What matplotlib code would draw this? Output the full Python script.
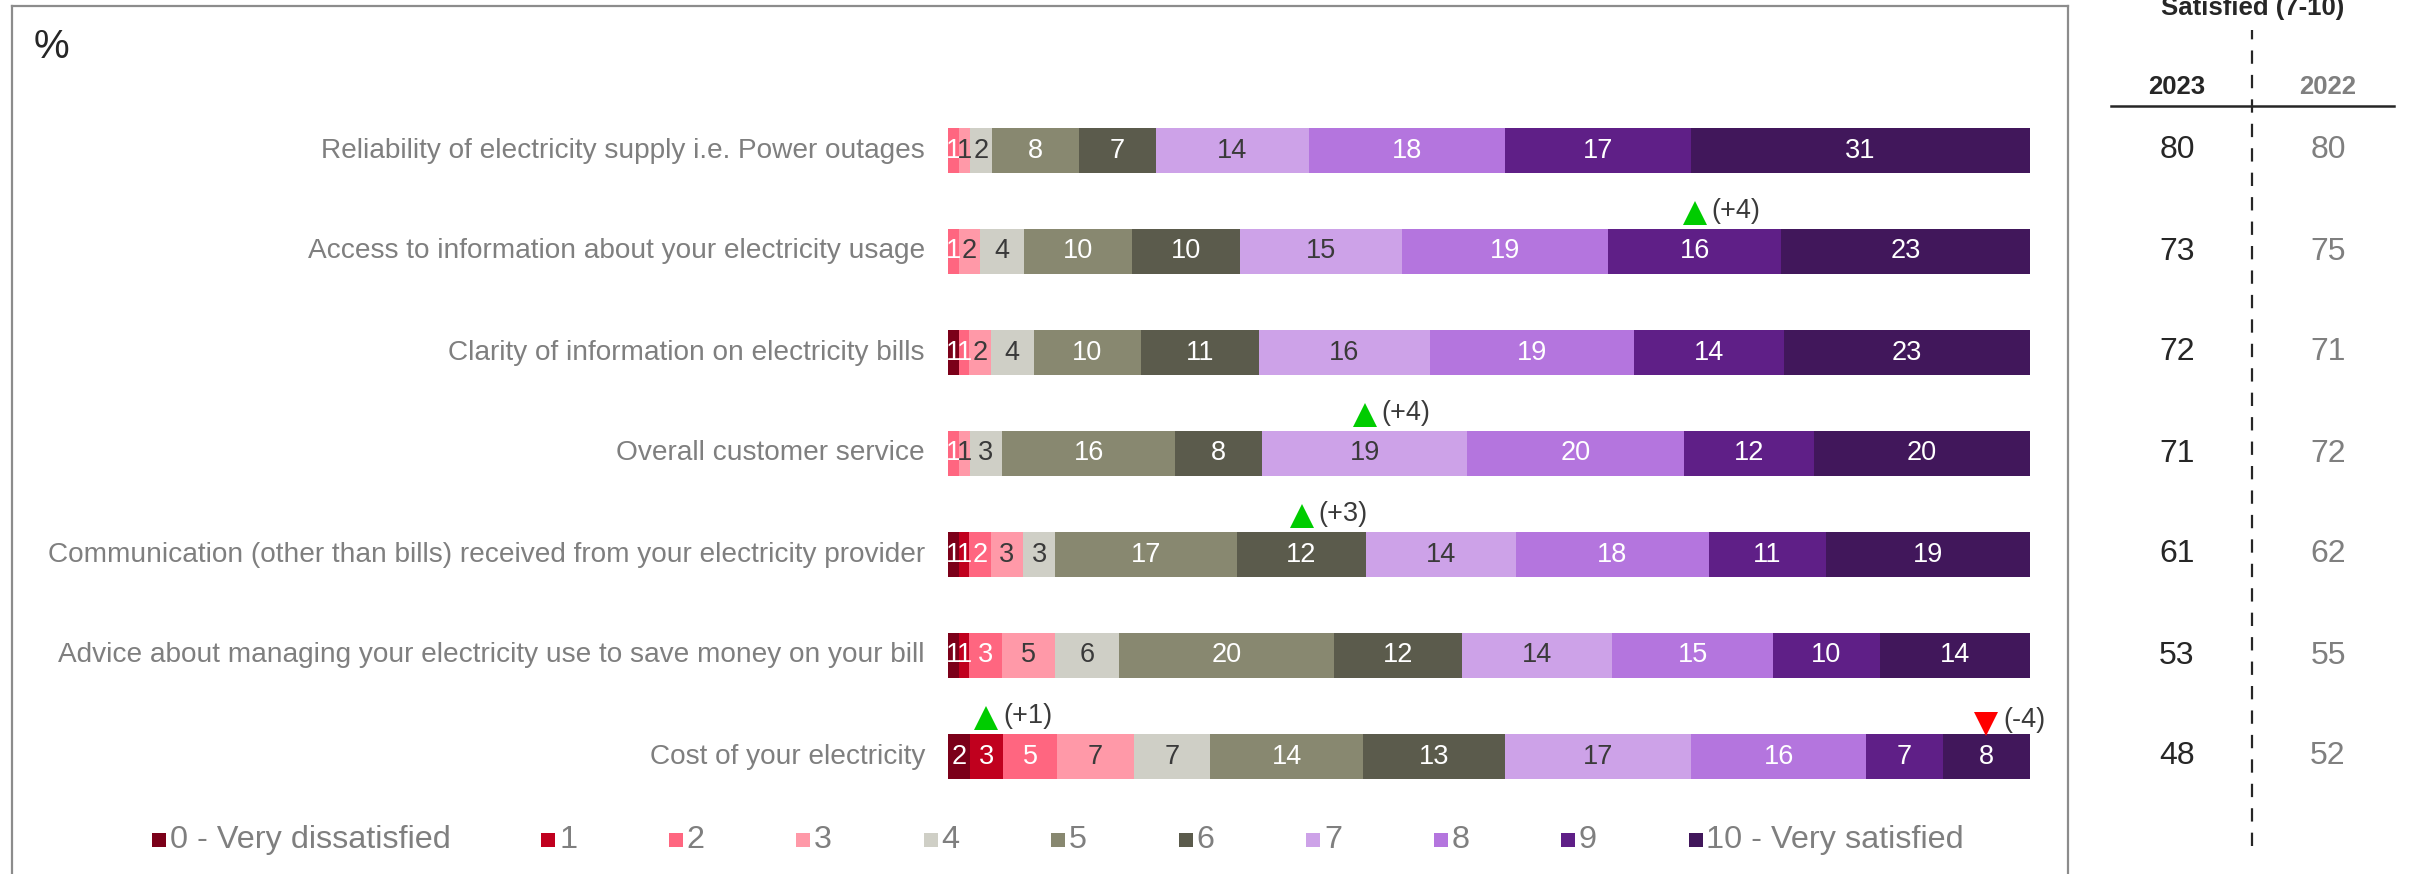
import matplotlib
matplotlib.use('Agg')
import matplotlib.pyplot as plt
import numpy as np
from matplotlib.transforms import blended_transform_factory
from matplotlib.lines import Line2D
from matplotlib.patches import Rectangle

plt.rcParams['font.family'] = ['Liberation Sans', 'DejaVu Sans']

# ---------------- data ----------------
categories = [
    "Reliability of electricity supply i.e. Power outages",
    "Access to information about your electricity usage",
    "Clarity of information on electricity bills",
    "Overall customer service",
    "Communication (other than bills) received from your electricity provider",
    "Advice about managing your electricity use to save money on your bill",
    "Cost of your electricity",
]
score_labels = ["0 - Very dissatisfied", "1", "2", "3", "4", "5", "6", "7", "8", "9",
                "10 - Very satisfied"]
score_0 = [0, 0, 1, 0, 1, 1, 2]
score_1 = [0, 0, 0, 0, 1, 1, 3]
score_2 = [1, 1, 1, 1, 2, 3, 5]
score_3 = [1, 2, 2, 1, 3, 5, 7]
score_4 = [2, 4, 4, 3, 3, 6, 7]
score_5 = [8, 10, 10, 16, 17, 20, 14]
score_6 = [7, 10, 11, 8, 12, 12, 13]
score_7 = [14, 15, 16, 19, 14, 14, 17]
score_8 = [18, 19, 19, 20, 18, 15, 16]
score_9 = [17, 16, 14, 12, 11, 10, 7]
score_10 = [31, 23, 23, 20, 19, 14, 8]
satisfied_2023 = [80, 73, 72, 71, 61, 53, 48]
satisfied_2022 = [80, 75, 71, 72, 62, 55, 52]
# significant changes: (row index, score index, label, direction)
change_rows = [1, 3, 4, 6, 6]
change_scores = [9, 7, 6, 1, 10]
change_labels = ["(+4)", "(+4)", "(+3)", "(+1)", "(-4)"]
change_dirs = ["up", "up", "up", "up", "down"]

colors = ['#7B0019', '#C0001E', '#FF6680', '#FF99A8', '#CFCFC6', '#888870',
          '#5B5B4C', '#CDA2E8', '#B475DE', '#5F1F87', '#41175B']
text_colors = ['white', 'white', 'white', '#3A3A3A', '#3A3A3A', 'white',
               'white', '#3A3A3A', 'white', 'white', 'white']

series = np.array([score_0, score_1, score_2, score_3, score_4, score_5,
                   score_6, score_7, score_8, score_9, score_10], dtype=float)

# ---------------- figure ----------------
W, H = 2433, 874
fig = plt.figure(figsize=(W / 100, H / 100), dpi=100)
fig.patch.set_facecolor('white')

ax = fig.add_axes([948 / W, (H - 807) / H, (2030 - 948) / W, 707 / H])
ax.set_xlim(0, 100)
ax.set_ylim(len(categories) - 0.5, -0.5)
ax.axis('off')

y = np.arange(len(categories))
totals = series.sum(axis=0)
shares = series / totals * 100
left = np.zeros(len(categories))
centers = np.zeros_like(shares)
for k in range(series.shape[0]):
    ax.barh(y, shares[k], left=left, height=0.45, color=colors[k],
            edgecolor='none', linewidth=0)
    centers[k] = left + shares[k] / 2
    for i in range(len(categories)):
        if series[k, i] > 0:
            ax.text(centers[k, i], y[i], f"{int(series[k, i])}", ha='center',
                    va='center', fontsize=19.5, color=text_colors[k])
    left = left + shares[k]

# category labels
tr_lab = blended_transform_factory(fig.transFigure, ax.transData)
for i, c in enumerate(categories):
    ax.text(925 / W, y[i], c, transform=tr_lab, ha='right', va='center',
            fontsize=20.2, color='#7F7F7F')

# change markers
for r, s, lab, d in zip(change_rows, change_scores, change_labels, change_dirs):
    cx = centers[s, r]
    if d == 'up':
        ax.plot(cx, r - 0.385, marker='^', markersize=17, color='#00CC00',
                markeredgewidth=0, clip_on=False)
        ax.annotate(lab, (cx, r - 0.40), xytext=(12, 0), textcoords='offset points',
                    ha='left', va='center', fontsize=19.5, color='#3A3A3A',
                    annotation_clip=False)
    else:
        ax.plot(cx, r - 0.32, marker='v', markersize=17, color='#FF0000',
                markeredgewidth=0, clip_on=False)
        ax.annotate(lab, (cx, r - 0.36), xytext=(12, 0), textcoords='offset points',
                    ha='left', va='center', fontsize=19.5, color='#3A3A3A',
                    annotation_clip=False)

# "%"
fig.text(34 / W, 1 - 47 / H, "%", ha='left', va='center', fontsize=29,
         color='#262626')

# frame around chart area
fc = '#8C8C8C'
fig.add_artist(Line2D([12 / W, 12 / W], [0, 1 - 6 / H], transform=fig.transFigure,
                      color=fc, lw=1.6))
fig.add_artist(Line2D([12 / W, 2068 / W], [1 - 6 / H, 1 - 6 / H],
                      transform=fig.transFigure, color=fc, lw=1.6))
fig.add_artist(Line2D([2068 / W, 2068 / W], [0, 1 - 6 / H], transform=fig.transFigure,
                      color=fc, lw=1.6))

# right table
fig.text(2253 / W, 1 - 15 / H, "Satisfied (7-10)", ha='center', va='baseline',
         fontsize=18.5, fontweight='bold', color='#262626')
fig.text(2177 / W, 1 - 87 / H, "2023", ha='center', va='center', fontsize=18.5,
         fontweight='bold', color='#262626')
fig.text(2328 / W, 1 - 87 / H, "2022", ha='center', va='center', fontsize=18.5,
         fontweight='bold', color='#7F7F7F')
fig.add_artist(Line2D([2111 / W, 2394 / W], [1 - 106 / H, 1 - 106 / H],
                      transform=fig.transFigure, color='#262626', lw=1.8))
fig.add_artist(Line2D([2252 / W, 2252 / W], [1 - 846 / H, 1 - 30 / H],
                      transform=fig.transFigure, color='#262626', lw=1.6,
                      dashes=(6, 5)))
for i in range(len(categories)):
    ax.text(2177 / W, y[i], f"{satisfied_2023[i]}", transform=tr_lab, ha='center',
            va='center', fontsize=23, color='#262626')
    ax.text(2328 / W, y[i], f"{satisfied_2022[i]}", transform=tr_lab, ha='center',
            va='center', fontsize=23, color='#7F7F7F')

# legend
leg_y = 1 - 840 / H
sq = 14
for k, lab in enumerate(score_labels):
    x0 = 152 if k == 0 else 541 + 127.5 * (k - 1)
    fig.add_artist(Rectangle((x0 / W, leg_y - (sq / 2) / H), sq / W, sq / H,
                             transform=fig.transFigure, facecolor=colors[k],
                             edgecolor='none'))
    fig.text((x0 + sq + 4) / W, leg_y, lab, ha='left', va='center', fontsize=23.3,
             color='#7F7F7F')

fig.savefig('out.png', dpi=100, facecolor='white')
